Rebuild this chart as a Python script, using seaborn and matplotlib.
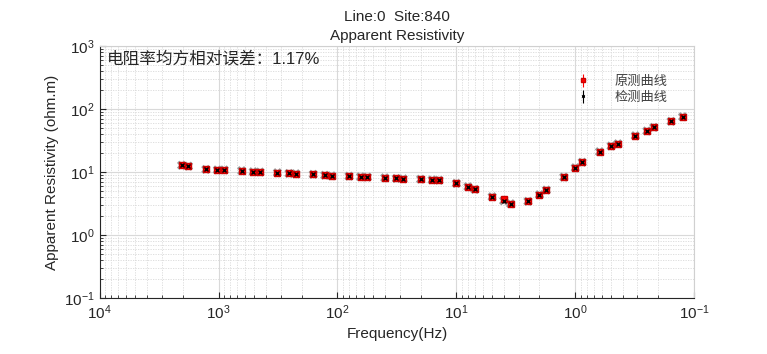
import matplotlib
matplotlib.use("Agg")
import matplotlib.pyplot as plt
import seaborn as sns
import numpy as np
import pandas as pd
from matplotlib.ticker import LogLocator, NullFormatter

# ---- data ----
freq = [2048, 1792, 1280, 1024, 896, 640, 512, 448, 320, 256, 224, 160, 128, 112,
        80, 64, 56, 40, 32, 28, 20, 16, 14, 10, 8, 7, 5, 4, 3.5, 2.5, 2, 1.75,
        1.25, 1, 0.875, 0.625, 0.5, 0.4375, 0.3125, 0.25, 0.21875, 0.15625, 0.125]
rho_obs = [12.8, 12.4, 11.0, 10.8, 10.8, 10.5, 10.1, 10.0, 9.75, 9.5, 9.4, 9.2, 8.9, 8.7,
           8.6, 8.4, 8.3, 8.1, 7.9, 7.8, 7.7, 7.5, 7.4, 6.6, 5.85, 5.3, 4.05, 3.7, 3.14,
           3.43, 4.37, 5.18, 8.3, 11.7, 14.3, 21.0, 25.9, 28.1, 37.7, 44.8, 51.2, 63.8, 75.5]
rho_calc = [12.8, 12.4, 11.0, 10.8, 10.8, 10.5, 10.1, 10.0, 9.75, 9.5, 9.4, 9.2, 8.9, 8.7,
            8.6, 8.4, 8.3, 8.1, 7.9, 7.8, 7.7, 7.5, 7.4, 6.6, 5.85, 5.3, 4.05, 3.5, 3.14,
            3.43, 4.37, 5.18, 8.3, 11.7, 14.3, 21.0, 25.9, 28.1, 37.7, 44.8, 51.2, 63.8, 75.5]
err_obs = [0.25, 0.25, 0.2, 0.2, 0.2, 0.2, 0.2, 0.2, 0.2, 0.18, 0.18, 0.18, 0.17, 0.17,
           0.17, 0.16, 0.16, 0.16, 0.15, 0.15, 0.15, 0.15, 0.14, 0.13, 0.12, 0.1, 0.08, 0.07, 0.06,
           0.07, 0.09, 0.1, 0.16, 0.23, 0.28, 0.4, 0.5, 0.55, 0.75, 0.9, 1.0, 1.25, 1.5]
misfit_text = "电阻率均方相对误差：1.17%"
title_line1 = "Line:0  Site:840"
title_line2 = "Apparent Resistivity"
legend_labels = ["原测曲线", "检测曲线"]

df = pd.DataFrame({"freq": freq, "obs": rho_obs, "calc": rho_calc, "err": err_obs})

sns.set_style("ticks")
plt.rcParams['font.family'] = ['Liberation Sans', 'Noto Sans CJK SC', 'DejaVu Sans']
plt.rcParams['mathtext.default'] = 'regular'
plt.rcParams['axes.unicode_minus'] = True

fig = plt.figure(figsize=(7.67, 3.54), dpi=100)
ax = fig.add_axes([0.130, 0.158, 0.775, 0.712])

ax.set_xscale('log')
ax.set_yscale('log')

# gray X outlines
sns.scatterplot(data=df, x="freq", y="calc", marker="X", s=45, color="#9a9a9a",
                edgecolor="none", ax=ax, legend=False, zorder=3)
# observed: red markers with error bars
eb1 = ax.errorbar(df["freq"], df["obs"], yerr=df["err"], fmt='s', color='red',
                  ms=4.5, mec='#cc0000', mfc='red', elinewidth=0.8, capsize=0,
                  zorder=4, label=legend_labels[0])
# calculated: black
eb2 = ax.errorbar(df["freq"], df["calc"], yerr=df["err"] * 0.5, fmt='x', color='black',
                  ms=2.5, mew=1.0, elinewidth=0.8, capsize=0, zorder=5,
                  label=legend_labels[1])

ax.set_xlim(1e4, 1e-1)
ax.set_ylim(1e-1, 1e3)

ax.xaxis.set_major_locator(LogLocator(base=10, numticks=10))
ax.yaxis.set_major_locator(LogLocator(base=10, numticks=10))
ax.xaxis.set_minor_locator(LogLocator(base=10, subs=np.arange(2, 10), numticks=20))
ax.yaxis.set_minor_locator(LogLocator(base=10, subs=np.arange(2, 10), numticks=20))
ax.xaxis.set_minor_formatter(NullFormatter())
ax.yaxis.set_minor_formatter(NullFormatter())

ax.grid(True, which='major', color='#d9d9d9', linewidth=0.8, linestyle='-')
ax.grid(True, which='minor', color='#d9d9d9', linewidth=0.6, linestyle=(0, (1.5, 1.5)))
ax.set_axisbelow(True)

ax.tick_params(which='both', direction='in', top=False, right=False, labelsize=11, color='#262626')
ax.tick_params(which='major', length=4)
ax.tick_params(which='minor', length=2)
for s in ax.spines.values():
    s.set_linewidth(0.8)
ax.spines['top'].set_color('#d0d0d0')
ax.spines['right'].set_color('#d0d0d0')
ax.spines['left'].set_color('#262626')
ax.spines['bottom'].set_color('#262626')

ax.set_xlabel("Frequency(Hz)", fontsize=11, labelpad=4)
ax.set_ylabel("Apparent Resistivity (ohm.m)", fontsize=11, labelpad=4)
ax.set_title(title_line1 + "\n" + title_line2, fontsize=11, pad=4, linespacing=1.5)

ax.text(0.012, 0.952, misfit_text, transform=ax.transAxes, fontsize=12,
        ha='left', va='center', color='#262626')

leg = ax.legend(handles=[eb1, eb2], loc='upper left', bbox_to_anchor=(0.78, 0.93),
                frameon=False, fontsize=9.5, handlelength=1.2, handletextpad=1.8,
                labelspacing=0.3, markerscale=0.7)
for t in leg.get_texts():
    t.set_color('#404040')

fig.savefig("out.png", dpi=100)
